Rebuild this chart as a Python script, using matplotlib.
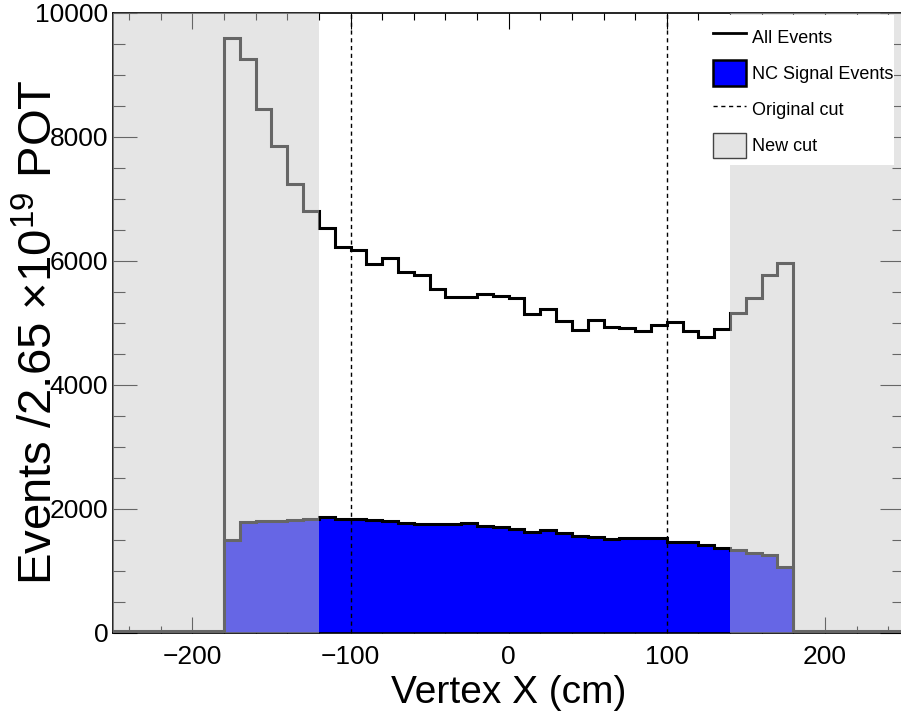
import numpy as np
import matplotlib
matplotlib.use("Agg")
import matplotlib.pyplot as plt
from matplotlib.ticker import MultipleLocator
from matplotlib.lines import Line2D
from matplotlib.patches import Patch, Rectangle

plt.rcParams['font.family'] = ['Liberation Sans', 'DejaVu Sans']
plt.rcParams['mathtext.fontset'] = 'custom'
plt.rcParams['mathtext.rm'] = 'Liberation Sans'
plt.rcParams['mathtext.it'] = 'Liberation Sans:italic'

# ---- data ----
bin_edges = np.arange(-250, 251, 10)
all_events = [25, 25, 25, 25, 25, 25, 25,
              9590, 9260, 8440, 7845, 7230, 6800, 6520, 6220, 6180, 5950,
              6050, 5810, 5765, 5540, 5410, 5410, 5460, 5430, 5400, 5140,
              5220, 5030, 4880, 5040, 4935, 4910, 4865, 4970, 5010, 4870,
              4765, 4895, 5150, 5395, 5765, 5970,
              25, 25, 25, 25, 25, 25, 25]
nc_signal = [0, 0, 0, 0, 0, 0, 0,
             1495, 1785, 1806, 1806, 1818, 1834, 1871, 1834, 1834, 1818,
             1806, 1764, 1758, 1753, 1753, 1774, 1726, 1700, 1673, 1619,
             1656, 1603, 1560, 1538, 1511, 1532, 1527, 1532, 1463, 1457,
             1409, 1371, 1334, 1290, 1253, 1065,
             0, 0, 0, 0, 0, 0, 0]
original_cut = [-100, 100]
new_cut_regions = [(-250, -120), (140, 250)]
x_ticks = [-200, -100, 0, 100, 200]
y_ticks = [0, 2000, 4000, 6000, 8000, 10000]

W, H = 901, 713
fig = plt.figure(figsize=(W / 100, H / 100), dpi=100)
ax_left, ax_right, ax_top, ax_bottom = 113.3, 904.0, 12.7, 632.7
ax = fig.add_axes([ax_left / W, 1 - ax_bottom / H,
                   (ax_right - ax_left) / W, (ax_bottom - ax_top) / H])

ax.stairs(all_events, bin_edges, color='black', linewidth=2.2, zorder=1.8)
ax.stairs(nc_signal, bin_edges, fill=True, facecolor='#0000ff',
          edgecolor='none', zorder=1.9)
ax.stairs(nc_signal, bin_edges, color='black', linewidth=2.2, zorder=2.0)

for xc in original_cut:
    ax.axvline(xc, color='black', linewidth=1.0, linestyle=(0, (3.0, 2.6)),
               zorder=2.1)

for lo, hi in new_cut_regions:
    ax.axvspan(lo, hi, facecolor=(0.8, 0.8, 0.8), alpha=0.5,
               edgecolor='none', zorder=3)

ax.set_xlim(-250, 250)
ax.set_ylim(0, 10000)
ax.set_xticks(x_ticks)
ax.set_xticklabels(['\u2212200', '\u2212100', '0', '100', '200'])
ax.set_yticks(y_ticks)
ax.xaxis.set_minor_locator(MultipleLocator(20))
ax.yaxis.set_minor_locator(MultipleLocator(500))
ax.tick_params(which='both', direction='in', top=True, right=True,
               width=0.8, color='black')
ax.tick_params(axis='x', which='major', length=11.5, labelsize=19, pad=8.5)
ax.tick_params(axis='x', which='minor', length=5.2)
ax.tick_params(axis='y', which='major', length=17, labelsize=19, pad=3.6)
ax.tick_params(axis='y', which='minor', length=8.6)
for sp in ax.spines.values():
    sp.set_linewidth(1.2)

ax.set_xlabel('Vertex X (cm)', fontsize=28)
ax.xaxis.set_label_coords(0.5, -(703 - ax_bottom) / (ax_bottom - ax_top))
ax.xaxis.label.set_va('baseline')

ax.set_ylabel('Events /2.65 \u00d710$^{19}$ POT', fontsize=34)
ax.yaxis.set_label_coords((52 - ax_left) / (ax_right - ax_left),
                          (ax_bottom - 332) / (ax_bottom - ax_top))
ax.yaxis.label.set_va('baseline')

# legend background
bg = Rectangle((700 / W, 1 - 165 / H), (894 - 700) / W, (165 - 15) / H,
               transform=fig.transFigure, facecolor='white', edgecolor='none',
               zorder=4)
fig.add_artist(bg)

handles = [
    Line2D([], [], color='black', linewidth=2.0),
    Patch(facecolor='#0000ff', edgecolor='black', linewidth=1.8),
    Line2D([], [], color='black', linewidth=1.0, linestyle=(0, (3.0, 2.6))),
    Patch(facecolor='#e4e4e4', edgecolor='#444444', linewidth=1.0),
]
labels = ['All Events', 'NC Signal Events', 'Original cut', 'New cut']
leg = fig.legend(handles, labels, loc='upper left',
                 bbox_to_anchor=(712.7 / W, 1 - 24 / H),
                 bbox_transform=fig.transFigure,
                 frameon=False, fontsize=13, borderpad=0, borderaxespad=0,
                 handlelength=1.85, handleheight=1.82, handletextpad=0.33,
                 labelspacing=0.576)
leg.set_zorder(5)

fig.savefig('out.png', dpi=100)
